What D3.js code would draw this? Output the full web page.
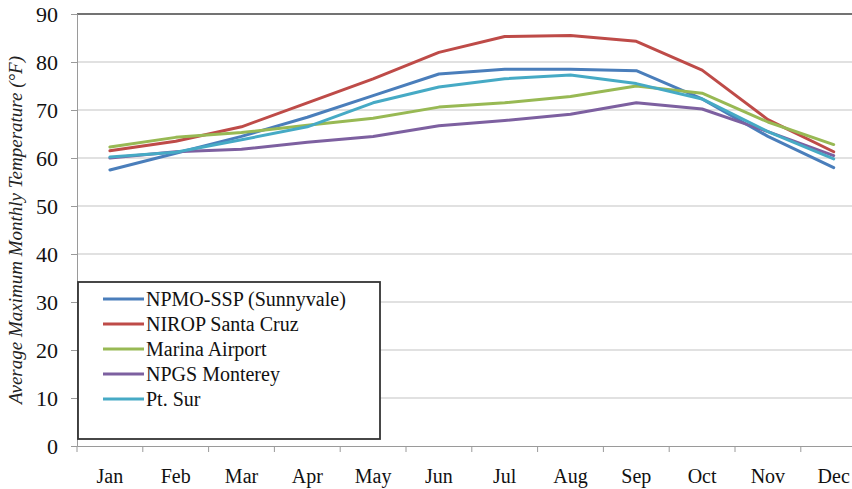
<!DOCTYPE html>
<html>
<head>
<meta charset="utf-8">
<script src="https://cdn.jsdelivr.net/npm/d3@7"></script>
<style>
  html, body { margin: 0; padding: 0; background: #fff; }
  svg text { font-family: 'Liberation Serif', 'Times New Roman', serif; }
</style>
</head>
<body>
<div id="chart"></div>
<script>
const months = ['Jan', 'Feb', 'Mar', 'Apr', 'May', 'Jun', 'Jul', 'Aug', 'Sep', 'Oct', 'Nov', 'Dec'];
const yTicks = [0, 10, 20, 30, 40, 50, 60, 70, 80, 90];

const sunnyvale = [57.5, 61.0, 64.5, 68.5, 73.0, 77.5, 78.5, 78.5, 78.2, 72.3, 64.5, 58.0];
const santaCruz = [61.5, 63.5, 66.5, 71.5, 76.5, 82.0, 85.3, 85.5, 84.3, 78.3, 68.0, 61.3];
const marina    = [62.3, 64.3, 65.3, 66.8, 68.3, 70.6, 71.5, 72.8, 75.0, 73.5, 67.5, 62.8];
const monterey  = [60.0, 61.3, 61.8, 63.3, 64.5, 66.7, 67.8, 69.1, 71.5, 70.2, 65.5, 60.5];
const ptSur     = [60.2, 61.2, 63.8, 66.5, 71.5, 74.8, 76.5, 77.3, 75.5, 72.3, 65.5, 59.8];

const seriesNames = ['NPMO-SSP (Sunnyvale)', 'NIROP Santa Cruz', 'Marina Airport', 'NPGS Monterey', 'Pt. Sur'];
const seriesValues = [sunnyvale, santaCruz, marina, monterey, ptSur];
const seriesColors = ['#4a7ebb', '#be4b48', '#98b954', '#7d60a0', '#46aac5'];

const serif = "'Liberation Serif', 'Times New Roman', serif";
const width = 852, height = 489;
const margin = { left: 77, top: 14, bottom: 43 };
const bandW = 65.8;

const svg = d3.select('#chart').append('svg')
  .attr('width', width)
  .attr('height', height)
  .style('display', 'block');

const x = d3.scaleBand()
  .domain(months)
  .range([margin.left, margin.left + bandW * months.length])
  .padding(0);

const y = d3.scaleLinear()
  .domain([0, 90])
  .range([height - margin.bottom, margin.top]);

// gridlines
svg.append('g')
  .selectAll('line')
  .data(yTicks.filter(d => d > 0 && d < 90))
  .enter().append('line')
  .attr('x1', margin.left)
  .attr('x2', width)
  .attr('y1', d => y(d))
  .attr('y2', d => y(d))
  .attr('stroke', '#c4c4c4')
  .attr('stroke-width', 1.2);

// top border of plot area
svg.append('line')
  .attr('x1', margin.left).attr('x2', width)
  .attr('y1', y(90)).attr('y2', y(90))
  .attr('stroke', '#444').attr('stroke-width', 1.5);

// y axis
const yAxis = svg.append('g')
  .attr('transform', `translate(${margin.left},0)`)
  .call(d3.axisLeft(y).tickValues(yTicks).tickSize(6).tickPadding(13));
yAxis.attr('font-family', serif);
yAxis.select('.domain').attr('stroke', '#9a9a9a');
yAxis.selectAll('.tick line').attr('stroke', '#9a9a9a');
yAxis.selectAll('text')
  .style('font-family', serif)
  .attr('font-size', 22)
  .attr('fill', '#111');

// x axis: labels at band centres, ticks at band boundaries
const xAxis = svg.append('g')
  .attr('transform', `translate(0,${y(0)})`)
  .call(d3.axisBottom(x).tickSize(0).tickPadding(23));
xAxis.attr('font-family', serif);
xAxis.select('.domain').attr('stroke', '#9a9a9a');
xAxis.selectAll('text')
  .style('font-family', serif)
  .attr('font-size', 20)
  .attr('fill', '#111');

const bounds = months.map(m => x(m)).concat([x.range()[1]]);
svg.append('g')
  .selectAll('line')
  .data(bounds)
  .enter().append('line')
  .attr('x1', d => d).attr('x2', d => d)
  .attr('y1', y(0)).attr('y2', y(0) + 6)
  .attr('stroke', '#9a9a9a');

// y axis title
svg.append('text')
  .attr('transform', `translate(22,${(y(0) + y(90)) / 2}) rotate(-90)`)
  .attr('text-anchor', 'middle')
  .style('font-family', serif)
  .attr('font-style', 'italic')
  .attr('font-size', 19)
  .attr('fill', '#222')
  .text('Average Maximum Monthly Temperature (°F)');

// lines
const line = d3.line()
  .x((d, i) => x(months[i]) + x.bandwidth() / 2)
  .y(d => y(d));

svg.append('g')
  .selectAll('path')
  .data(seriesValues)
  .enter().append('path')
  .attr('d', d => line(d))
  .attr('fill', 'none')
  .attr('stroke', (d, i) => seriesColors[i])
  .attr('stroke-width', 3)
  .attr('stroke-linejoin', 'round')
  .attr('stroke-linecap', 'round');

// legend
const legend = svg.append('g').attr('transform', 'translate(78,282)');
legend.append('rect')
  .attr('width', 302)
  .attr('height', 157)
  .attr('fill', '#fff')
  .attr('stroke', '#333')
  .attr('stroke-width', 1.8);

const item = legend.selectAll('.item')
  .data(seriesNames)
  .enter().append('g')
  .attr('transform', (d, i) => `translate(0,${17 + i * 25})`);

item.append('line')
  .attr('x1', 25).attr('x2', 66)
  .attr('stroke', (d, i) => seriesColors[i])
  .attr('stroke-width', 3);

item.append('text')
  .attr('x', 68)
  .attr('dy', '0.35em')
  .style('font-family', serif)
  .attr('font-size', 20)
  .attr('fill', '#111')
  .text(d => d);
</script>
</body>
</html>
